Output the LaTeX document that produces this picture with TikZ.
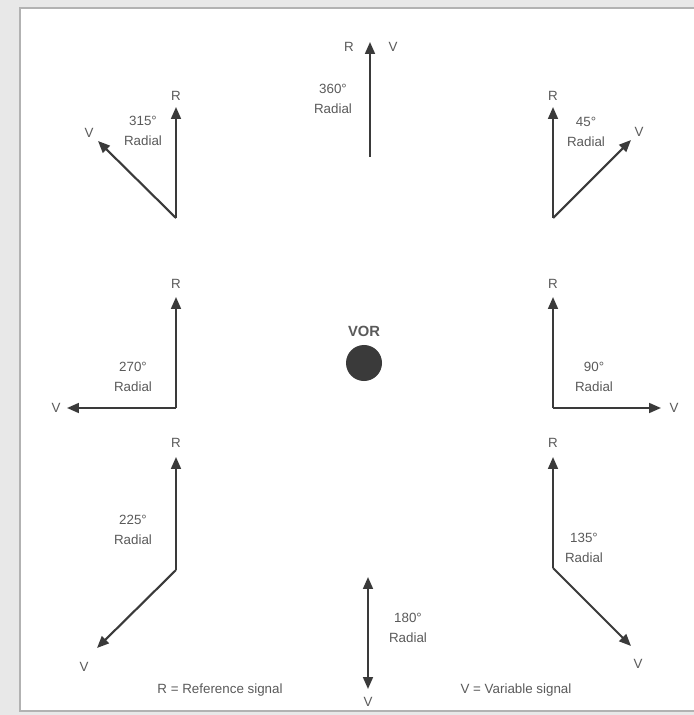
\documentclass[tikz,border=0pt]{standalone}
\usepackage{fontspec}
\setmainfont{Liberation Sans}
\usepackage{tikz}
\usetikzlibrary{arrows.meta}

\definecolor{vecgray}{HTML}{3A3A3A}
\definecolor{txtgray}{HTML}{5A5A5A}

\begin{document}
\begin{tikzpicture}[
      x=0.025cm, y=-0.025cm,
      lbl/.style={font=\fontsize{9.5}{14}\selectfont, text=txtgray, inner sep=1pt},
      rad/.style={lbl, align=center},
      vec/.style={-{Triangle[length=8.5pt, width=7pt]}, line width=1.5pt, vecgray},
      dvec/.style={{Triangle[length=8.5pt, width=7pt]}-{Triangle[length=8.5pt, width=7pt]},
                   line width=1.5pt, vecgray},
    ]
    % ── frame ──
    \fill[gray!18] (0,0) rectangle (694,715);
    \useasboundingbox (0,0) rectangle (694,715);
    \draw[gray!60, fill=white, line width=0.8pt] (20,711) -- (20,8) -- (700,8)
         -- (700,711) -- cycle;

    % ── station ──
    \node[circle, fill=vecgray, minimum size=0.9cm, inner sep=0pt] (vor) at (364,363) {};
    \node[lbl, font=\fontsize{10.5}{12}\selectfont\bfseries] (vortxt) at (364,331) {VOR};

    % ── 360 radial ──
    \coordinate (o360) at (370,157);
    \coordinate (r360) at (370,42);
    \node[lbl] (R360) at (349,47) {R};
    \node[lbl] (V360) at (393,47) {V};
    \node[rad] (t360) at (333,99) {360°\\Radial};
    \draw[vec] (o360) -- (r360);

    % ── 45 radial ──
    \coordinate (o45) at (553,218);
    \coordinate (r45) at (553,107);
    \coordinate (v45) at (631,140);
    \node[lbl] (R45) at (553,96) {R};
    \node[lbl] (V45) at (639,132) {V};
    \node[rad] (t45) at (586,132) {45°\\Radial};
    \draw[vec] (o45) -- (r45);
    \draw[vec] (o45) -- (v45);

    % ── 90 radial ──
    \coordinate (o90) at (553,408);
    \coordinate (r90) at (553,297);
    \coordinate (v90) at (661,408);
    \node[lbl] (R90) at (553,284) {R};
    \node[lbl] (V90) at (674,408) {V};
    \node[rad] (t90) at (594,377) {90°\\Radial};
    \draw[vec] (o90) -- (r90);
    \draw[vec] (o90) -- (v90);

    % ── 135 radial ──
    \coordinate (o135) at (553,568);
    \coordinate (r135) at (553,457);
    \coordinate (v135) at (631,646);
    \node[lbl] (R135) at (553,443) {R};
    \node[lbl] (V135) at (638,664) {V};
    \node[rad] (t135) at (584,548) {135°\\Radial};
    \draw[vec] (o135) -- (r135);
    \draw[vec] (o135) -- (v135);

    % ── 180 radial ──
    \coordinate (r180) at (368,577);
    \coordinate (v180) at (368,689);
    \node[lbl] (V180) at (368,702) {V};
    \node[rad] (t180) at (408,628) {180°\\Radial};
    \draw[dvec] (r180) -- (v180);

    % ── 225 radial ──
    \coordinate (o225) at (176,570);
    \coordinate (r225) at (176,457);
    \coordinate (v225) at (97,648);
    \node[lbl] (R225) at (176,443) {R};
    \node[lbl] (V225) at (84,667) {V};
    \node[rad] (t225) at (133,530) {225°\\Radial};
    \draw[vec] (o225) -- (r225);
    \draw[vec] (o225) -- (v225);

    % ── 270 radial ──
    \coordinate (o270) at (176,408);
    \coordinate (r270) at (176,297);
    \coordinate (v270) at (67,408);
    \node[lbl] (R270) at (176,284) {R};
    \node[lbl] (V270) at (56,408) {V};
    \node[rad] (t270) at (133,377) {270°\\Radial};
    \draw[vec] (o270) -- (r270);
    \draw[vec] (o270) -- (v270);

    % ── 315 radial ──
    \coordinate (o315) at (176,218);
    \coordinate (r315) at (176,107);
    \coordinate (v315) at (98,141);
    \node[lbl] (R315) at (176,96) {R};
    \node[lbl] (V315) at (89,133) {V};
    \node[rad] (t315) at (143,131) {315°\\Radial};
    \draw[vec] (o315) -- (r315);
    \draw[vec] (o315) -- (v315);

    % legend
    \node[lbl] (keyR) at (220,690) {R = Reference signal};
    \node[lbl] (keyV) at (516,690) {V = Variable signal};
  \end{tikzpicture}
\end{document}
